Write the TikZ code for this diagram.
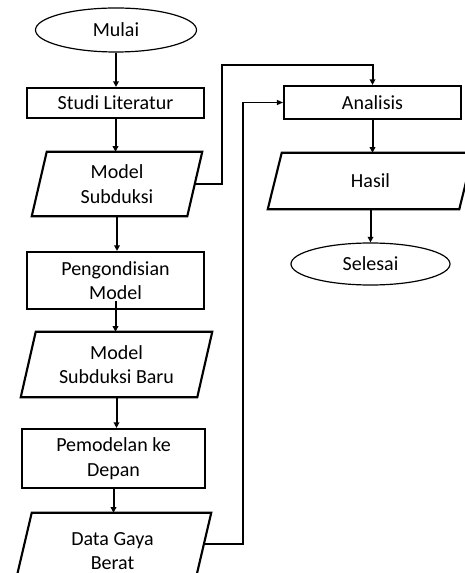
\documentclass[tikz,border=0pt]{standalone}
\usepackage{fontspec}
\setmainfont{Carlito}
\usetikzlibrary{shapes.geometric,arrows.meta,calc}
\newcommand\drawio[2]{\draw[boxline] ([xshift=#2]#1.north west) -- (#1.north east) -- ([xshift=-#2]#1.south east) -- (#1.south west) -- cycle;}
\begin{document}
\begin{tikzpicture}[x=0.75pt,y=-0.75pt,
  every node/.style={font=\fontsize{15}{18.5}\selectfont, inner sep=0pt, align=center},
  boxline/.style={line width=1.6pt, line join=miter},
  term/.style={ellipse, draw, line width=0.9pt},
  proc/.style={rectangle, draw, boxline},
  iobox/.style={rectangle, draw=none},
  flow/.style={line width=1.5pt, -{Triangle[length=4.2pt,width=4.2pt]}},
  thinflow/.style={line width=0.8pt, -{Triangle[length=4.5pt,width=3.8pt]}}
]
\useasboundingbox (0,0) rectangle (464,573);

\node[term, minimum width=120.75pt, minimum height=33pt] (mulai) at (116,30) {Mulai};
\node[proc, minimum width=132.75pt, minimum height=22.5pt] (studi) at (115.5,103) {Studi Literatur};
\node[iobox, minimum width=127.5pt, minimum height=48pt] (msub) at (117,184) {Model\\Subduksi};
\drawio{msub}{11.25pt}
\node[proc, minimum width=132.75pt, minimum height=42.75pt] (kond) at (115.5,280.5) {Pengondisian\\Model};
\node[iobox, minimum width=143.25pt, minimum height=48.75pt] (msb) at (116.5,364.5) {Model\\Subduksi Baru};
\drawio{msb}{11.25pt}
\node[proc, minimum width=137.25pt, minimum height=44.25pt] (pemo) at (113.5,458.5) {Pemodelan ke\\Depan};
\node[iobox, minimum width=147.75pt, minimum height=57pt] (data) at (112.5,551) {Data Gaya\\Berat};
\drawio{data}{13.5pt}

\node[proc, minimum width=132.75pt, minimum height=24.75pt] (anal) at (372.5,102.5) {Analisis};
\node[iobox, minimum width=153.75pt, minimum height=42pt] (hasil) at (370.5,181) {Hasil};
\drawio{hasil}{10.5pt}
\node[term, minimum width=119.25pt, minimum height=31.5pt] (selesai) at (370.5,264) {Selesai};

\coordinate (c1) at (222,65);
\coordinate (c2) at (243,102.5);

\draw[flow] (mulai.south) -- (mulai.south |- studi.north);
\draw[flow] (studi.south) -- (studi.south |- msub.north);
\draw[flow] (msub.south) -- (msub.south |- kond.north);
\draw[flow] ([yshift=6.75pt]kond.south) -- (kond.south |- msb.north);
\draw[flow] (msb.south) -- (msb.south |- pemo.north);
\draw[flow] (pemo.south) -- (pemo.south |- data.north);
\draw[flow] ([xshift=-5.625pt]msub.east) -| (c1) -| (anal.north);
\draw[thinflow] ([xshift=-5.25pt,yshift=5.25pt]data.east) -| (c2) -- (anal.west);
\draw[flow] (anal.south) -- (anal.south |- hasil.north);
\draw[flow] (hasil.south) -- (hasil.south |- selesai.north);
\end{tikzpicture}
\end{document}
